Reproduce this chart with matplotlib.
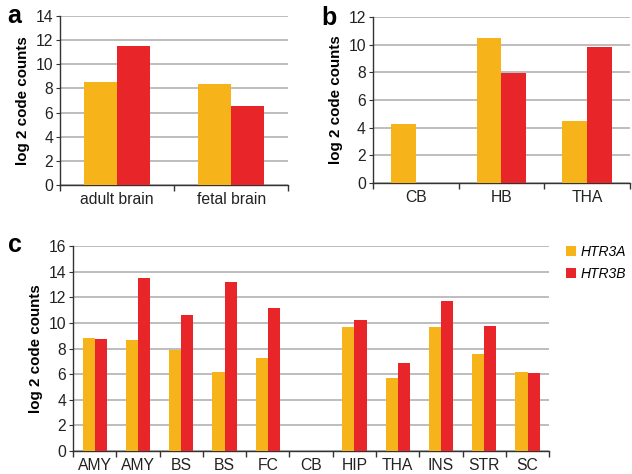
import numpy as np
import matplotlib.pyplot as plt

plt.rcParams['font.family'] = ['Liberation Sans', 'DejaVu Sans']

# ---- data ----
a_groups = ["adult brain", "fetal brain"]
a_htr3a = [8.5, 8.4]
a_htr3b = [11.5, 6.55]

b_groups = ["CB", "HB", "THA"]
b_htr3a = [4.3, 10.45, 4.45]
b_htr3b = [0.0, 7.95, 9.8]

c_groups = ["AMY", "AMY", "BS", "BS", "FC", "CB", "HIP", "THA", "INS", "STR", "SC"]
c_htr3a = [8.85, 8.64, 7.86, 6.14, 7.23, 0.0, 9.65, 5.67, 9.65, 7.54, 6.14]
c_htr3b = [8.71, 13.53, 10.59, 13.16, 11.13, 0.0, 10.25, 6.84, 11.68, 9.73, 6.06]

yellow = '#F7B31A'
red = '#E8262A'
axis_col = '#333333'
grid_col = '#b8b8b8'
fs = 11.3


def panel(ax, groups, ya, yb, ymax, width):
    x = np.arange(len(groups))
    ax.bar(x - width / 2, ya, width, color=yellow, zorder=3, label='HTR3A')
    ax.bar(x + width / 2, yb, width, color=red, zorder=3, label='HTR3B')
    ax.set_xlim(-0.5, len(groups) - 0.5)
    ax.set_ylim(0, ymax)
    ax.set_yticks(np.arange(0, ymax + 1, 2))
    ax.yaxis.grid(True, color=grid_col, lw=1.3, zorder=0)
    ax.set_axisbelow(True)
    for s in ['top', 'right']:
        ax.spines[s].set_visible(False)
    for s in ['left', 'bottom']:
        ax.spines[s].set_color(axis_col)
        ax.spines[s].set_linewidth(1.0)
    ax.set_xticks(x)
    ax.set_xticklabels(groups, fontsize=fs, color='#222222')
    ax.tick_params(axis='x', which='major', length=0, pad=5)
    ax.set_xticks(np.arange(-0.5, len(groups), 1.0), minor=True)
    ax.tick_params(axis='x', which='minor', length=4, color=axis_col, width=1.0)
    ax.tick_params(axis='y', length=3, color=axis_col, labelsize=fs,
                   labelcolor='#222222', pad=2)
    ax.set_ylabel('log 2 code counts', fontsize=10.9, fontweight='bold', labelpad=4)


fig = plt.figure(figsize=(6.32, 4.74), dpi=100)

ax1 = fig.add_axes([0.095, 0.610, 0.361, 0.356])
panel(ax1, a_groups, a_htr3a, a_htr3b, 14, 0.29)

ax2 = fig.add_axes([0.590, 0.614, 0.407, 0.350])
panel(ax2, b_groups, b_htr3a, b_htr3b, 12, 0.29)

ax3 = fig.add_axes([0.1155, 0.0485, 0.7535, 0.4325])
panel(ax3, c_groups, c_htr3a, c_htr3b, 16, 0.28)

leg = ax3.legend(loc='upper left', bbox_to_anchor=(1.01, 1.065), frameon=False,
                 handlelength=0.7, handleheight=0.7, handletextpad=0.35,
                 labelspacing=0.55, prop={'style': 'italic', 'size': 10})

fig.text(0.012, 0.966, 'a', fontsize=18, fontweight='bold', va='center')
fig.text(0.508, 0.963, 'b', fontsize=18, fontweight='bold', va='center')
fig.text(0.012, 0.483, 'c', fontsize=18, fontweight='bold', va='center')

fig.savefig('out.png', dpi=100)
